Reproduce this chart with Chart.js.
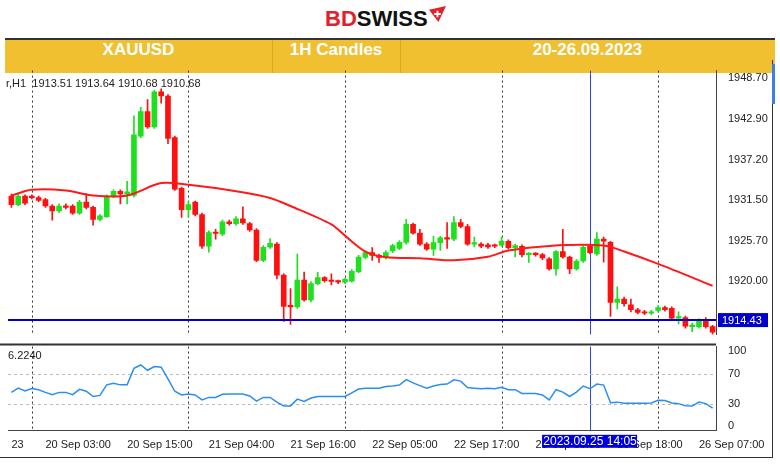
<!DOCTYPE html>
<html><head><meta charset="utf-8">
<script src="https://cdn.jsdelivr.net/npm/chart.js@4.4.0/dist/chart.umd.min.js"></script>
<style>
body{margin:0;width:780px;height:465px;background:#fff;position:relative;overflow:hidden;font-family:"Liberation Sans",Arial,sans-serif}
#logo{position:absolute;left:325px;top:6px;font:bold 22px "Liberation Sans Narrow","Liberation Sans",Arial;letter-spacing:0px}
#logo .bd{color:#E3202A}#logo .sw{color:#111}
#bar{position:absolute;left:5px;top:38px;width:770px;height:35px;background:#F0C030;border-top:2px solid #333;box-sizing:border-box}
.cell{position:absolute;top:0;height:33px;line-height:33px;color:#fff;font:bold 17px "Liberation Sans Narrow","Liberation Sans",Arial;text-align:center}
.sep{position:absolute;top:0;width:1px;height:33px;background:#d9ab25}
#c1{position:absolute;left:0;top:60px}
#c2{position:absolute;left:0;top:336px}
#rb{position:absolute;left:772px;top:60px;width:1px;height:398px;background:#333}
#bb{position:absolute;left:0;top:457px;width:773px;height:1px;background:#333}
#sc{position:absolute;left:772px;top:64px;width:3px;height:40px;background:#3a7ee6}
</style></head><body>
<div id="logo"><span class="bd">BD</span><span class="sw">SWISS</span><svg width="17" height="17" style="vertical-align:top;margin-left:1px" viewBox="0 0 18 18"><polygon points="0,4 18,0 10,17" fill="#E3202A"/><path d="M9 5v7M5.5 8.5h7" stroke="#fff" stroke-width="2"/></svg></div>
<div id="bar">
<div class="cell" style="left:0;width:267px">XAUUSD</div>
<div class="sep" style="left:267px"></div>
<div class="cell" style="left:267px;width:128px">1H Candles</div>
<div class="sep" style="left:395px"></div>
<div class="cell" style="left:395px;width:375px">20-26.09.2023</div>
</div>
<canvas id="c1" width="780" height="285"></canvas>
<canvas id="c2" width="780" height="122"></canvas>
<div id="rb"></div><div id="bb"></div><div id="sc"></div>
<script>
const openP=[1932.0,1930.8,1932.0,1932.0,1931.8,1931.5,1930.6,1929.9,1930.6,1930.6,1929.6,1931.15,1930.4,1928.7,1929.1,1932.0,1932.7,1932.3,1932.1,1940.5,1944.0,1941.8,1946.8,1946.2,1940.3,1933.1,1930.1,1931.15,1929.4,1924.9,1926.85,1926.6,1928.35,1928.1,1928.8,1928.1,1927.2,1922.9,1924.75,1925.2,1920.8,1916.35,1916.3,1920.1,1917.3,1919.6,1920.45,1920.0,1919.9,1919.8,1919.95,1921.3,1923.3,1924.0,1923.6,1923.3,1924.25,1924.6,1925.45,1928.0,1926.75,1925.2,1924.5,1925.4,1926.1,1925.9,1928.25,1927.7,1925.2,1925.2,1925.1,1925.0,1925.05,1925.6,1924.7,1924.9,1923.7,1923.8,1923.7,1923.1,1921.7,1924.15,1923.35,1921.7,1922.8,1924.9,1923.8,1925.9,1925.45,1916.95,1917.4,1916.6,1915.9,1915.5,1915.4,1915.8,1916.2,1916.1,1914.7,1914.8,1913.5,1913.5,1914.4,1913.5];
const closeP=[1930.8,1932.0,1931.0,1931.8,1931.4,1930.6,1929.9,1930.6,1930.4,1929.6,1931.15,1930.4,1928.7,1929.2,1932.0,1932.7,1932.3,1932.6,1940.7,1944.0,1941.8,1946.8,1946.2,1940.2,1933.0,1930.1,1930.8,1929.4,1924.9,1926.85,1926.7,1928.35,1928.1,1928.8,1928.2,1927.2,1922.9,1924.75,1925.3,1920.8,1916.35,1916.3,1920.1,1917.3,1919.6,1920.45,1920.0,1919.9,1919.8,1920.2,1921.35,1923.35,1924.0,1923.6,1923.3,1924.0,1925.0,1925.45,1928.0,1926.75,1925.2,1924.5,1925.4,1926.1,1925.9,1928.25,1927.7,1925.2,1925.3,1924.9,1924.8,1924.9,1925.6,1924.7,1925.0,1923.7,1923.8,1923.7,1923.25,1921.7,1924.15,1923.4,1921.7,1922.8,1924.75,1924.0,1925.9,1925.6,1916.95,1917.4,1916.75,1915.9,1915.5,1915.4,1915.5,1916.2,1915.9,1914.7,1914.8,1913.55,1913.6,1914.4,1913.5,1912.7];
const highP=[1932.3,1932.3,1932.2,1932.2,1932.0,1931.7,1930.8,1930.9,1930.9,1930.8,1931.4,1932.35,1930.6,1929.4,1932.2,1932.9,1932.9,1934.1,1943.4,1944.6,1945.7,1947.0,1947.2,1946.4,1940.5,1933.3,1931.3,1931.3,1929.6,1927.1,1927.3,1928.6,1928.6,1929.1,1930.5,1928.3,1927.4,1925.0,1926.0,1925.4,1921.0,1918.9,1923.8,1921.25,1919.9,1921.2,1920.6,1921.0,1920.1,1920.4,1921.6,1923.6,1924.2,1924.7,1923.8,1924.3,1925.2,1925.7,1928.7,1928.2,1927.3,1925.4,1926.3,1926.3,1928.25,1929.1,1928.7,1928.0,1926.2,1925.4,1925.3,1925.2,1926.2,1925.8,1925.2,1925.1,1924.0,1924.0,1923.9,1923.3,1924.3,1927.3,1923.5,1923.0,1925.0,1925.2,1926.85,1926.2,1925.6,1919.15,1917.7,1917.4,1916.1,1915.8,1915.8,1916.5,1916.4,1916.3,1915.6,1915.0,1914.0,1914.6,1914.8,1913.7];
const lowP=[1930.4,1930.6,1930.8,1931.6,1931.2,1930.4,1928.6,1929.7,1930.2,1929.4,1929.4,1930.2,1927.9,1928.5,1929.0,1931.8,1930.9,1930.9,1931.9,1940.3,1941.6,1941.6,1945.2,1939.45,1932.8,1929.0,1929.0,1929.2,1924.6,1924.05,1925.9,1926.4,1927.9,1927.9,1928.0,1927.0,1922.7,1922.7,1924.6,1920.25,1914.25,1913.8,1916.1,1917.1,1917.0,1919.4,1919.8,1919.4,1919.6,1919.6,1919.8,1921.1,1923.1,1922.9,1922.6,1923.1,1924.0,1924.4,1925.2,1926.6,1925.0,1924.3,1923.6,1924.3,1924.6,1925.7,1927.5,1925.0,1924.8,1924.7,1924.6,1924.7,1924.9,1924.5,1923.4,1923.4,1922.6,1923.5,1923.0,1921.5,1920.8,1923.2,1921.0,1921.5,1922.6,1923.8,1923.6,1922.65,1914.95,1916.0,1916.4,1915.6,1915.3,1915.2,1915.2,1915.6,1915.7,1914.5,1913.9,1913.3,1912.8,1913.3,1913.3,1912.4];
const rsiVals=[45,50.6,47,50,48.5,45,42,45,45,42,49,46.5,39.5,41,55,57,55,55,77,81.5,74.5,79.4,78.6,63,46.5,41.6,42.8,41.6,35,38.3,38.3,42.4,42.8,42.8,42.8,40.3,33.3,38.3,38.3,32,27,27,36,33,37.4,39.5,39.5,39.5,39.5,39.5,44.4,49.4,50.6,50.6,50.6,52.7,53.5,54.7,62,57.6,54,50.6,53.5,55.5,56,61.7,60,51.4,50.6,49.8,50.6,49.8,51.9,48.6,48.6,43.6,43.6,43.6,41.6,35,48.6,45.3,39.5,45.3,53.5,49.8,56,54.7,31.3,32,30.5,30.5,30.5,30.5,30.9,34.6,34.2,30.9,30,27.2,26.7,32,30,23.9];
const maIdx=[0,3,8,12,17,22,26,33,38,41,47,49,52,55,60,65,70,73,79,87,90,95,103];
const maVals=[1932.1,1932.9,1932.8,1932.1,1932.1,1933.85,1933.6,1932.7,1931.75,1930.6,1928.0,1926.4,1924.15,1923.35,1923.2,1922.9,1923.4,1924.3,1924.95,1925.0,1924.15,1922.4,1919.3];
const priceTicks=[1920.00,1925.70,1931.50,1937.20,1942.90,1948.70];
const rsiTicks=[0,30,70,100];
const xLabelIdx=[0,5,17,29,41,53,65,77,89,101];
const xLabelText=['23','20 Sep 03:00','20 Sep 15:00','21 Sep 04:00','21 Sep 16:00','22 Sep 05:00','22 Sep 17:00','25 Sep 06:00','25 Sep 18:00','26 Sep 07:00'];
const gridIdx=[3,26,49,72,95];
const cursorIdx=85, cursorText='2023.09.25 14:05';
const levelPrice=1914.43;
const infoText='r,H1  1913.51 1913.64 1910.68 1910.68';
const rsiInfo='6.2240';

const N=openP.length;
const cats=openP.map((_,i)=>{const k=xLabelIdx.indexOf(i);return k>=0?xLabelText[k]:'';});
const GREEN='#1EE01E',RED='#FF1010';
const cols=openP.map((o,i)=>closeP[i]>=o?GREEN:RED);
const maData=new Array(N).fill(null);maIdx.forEach((k,j)=>maData[k]=maVals[j]);
const FONT={family:'"Liberation Sans",Arial',size:11};
Chart.defaults.animation=false;

function vlines(chart){
  const {ctx,chartArea:a,scales:{x}}=chart;
  ctx.save();ctx.strokeStyle='#333';ctx.lineWidth=1;ctx.setLineDash([2,3]);
  gridIdx.forEach(i=>{const px=Math.round(x.getPixelForValue(i))+0.5;ctx.beginPath();ctx.moveTo(px,a.top);ctx.lineTo(px,a.bottom);ctx.stroke();});
  ctx.setLineDash([]);
  const cx=Math.round(x.getPixelForValue(cursorIdx))+0.5;
  ctx.strokeStyle='#3344ee';ctx.beginPath();ctx.moveTo(cx,a.top);ctx.lineTo(cx,a.bottom);ctx.stroke();
  ctx.restore();
}
const pl1={id:'p1',beforeDatasetsDraw(c){vlines(c);},afterDatasetsDraw(c){
  const {ctx,chartArea:a,scales:{y}}=c;const py=y.getPixelForValue(levelPrice);
  ctx.save();ctx.strokeStyle='#0000cc';ctx.lineWidth=2;ctx.beginPath();ctx.moveTo(a.left,py);ctx.lineTo(a.right,py);ctx.stroke();
  ctx.fillStyle='#0000cc';ctx.fillRect(a.right+2,py-7,50,14);ctx.fillStyle='#fff';ctx.font='11px "Liberation Sans",Arial';ctx.textBaseline='middle';ctx.fillText(levelPrice.toFixed(2),a.right+6,py+0.5);
  ctx.fillStyle='#222';ctx.textBaseline='top';ctx.fillText(infoText,a.left-2,a.top+8);
  ctx.restore();}};
const pl2={id:'p2',beforeDatasetsDraw(c){vlines(c);
  const {ctx,chartArea:a,scales:{y}}=c;ctx.save();ctx.strokeStyle='#bbb';ctx.setLineDash([3,3]);
  [30,70].forEach(v=>{const py=Math.round(y.getPixelForValue(v))+0.5;ctx.beginPath();ctx.moveTo(a.left,py);ctx.lineTo(a.right,py);ctx.stroke();});ctx.restore();},
 afterDraw(c){const {ctx,chartArea:a,scales:{x}}=c;ctx.save();
  ctx.fillStyle='#222';ctx.font='11px "Liberation Sans",Arial';ctx.textBaseline='top';ctx.fillText(rsiInfo,a.left,a.top+4);
  const cx=x.getPixelForValue(cursorIdx);ctx.fillStyle='#0000dd';ctx.fillRect(cx-48,a.bottom+4,95,13);
  ctx.fillStyle='#fff';ctx.textAlign='center';ctx.textBaseline='middle';ctx.font='12px "Liberation Sans",Arial';ctx.fillText(cursorText,cx,a.bottom+11);
  ctx.strokeStyle='#333';ctx.lineWidth=2;ctx.beginPath();ctx.moveTo(0,a.top-2);ctx.lineTo(a.right,a.top-2);ctx.stroke();ctx.restore();}};

const yFit=s=>{s.width=64;};
new Chart(document.getElementById('c1'),{
 data:{labels:cats,datasets:[
  {type:'line',data:maData,borderColor:'#ff1a1a',borderWidth:2,pointRadius:0,spanGaps:true,tension:0.3,order:0},
  {type:'bar',data:openP.map((o,i)=>[o,closeP[i]]),backgroundColor:cols,barThickness:5,minBarLength:1.5,grouped:false,order:1},
  {type:'bar',data:openP.map((o,i)=>[lowP[i],highP[i]]),backgroundColor:cols,barThickness:1,grouped:false,order:2}
 ]},
 options:{responsive:false,layout:{padding:{left:8,top:1,bottom:0,right:0}},
  plugins:{legend:{display:false},tooltip:{enabled:false}},
  scales:{x:{display:false,offset:true},
   y:{position:'right',min:1912.4,max:1949.8,afterFit:yFit,afterBuildTicks:s=>{s.ticks=priceTicks.map(v=>({value:v}));},
    grid:{display:false,drawTicks:true},border:{display:true,color:'#444'},
    ticks:{font:FONT,color:'#222',padding:4,callback:v=>Number(v).toFixed(2)}}}},
 plugins:[pl1]});
new Chart(document.getElementById('c2'),{
 data:{labels:cats,datasets:[{type:'line',data:rsiVals,borderColor:'#2a8ef0',borderWidth:1.5,pointRadius:0,tension:0}]},
 options:{responsive:false,layout:{padding:{left:8,top:0,bottom:6,right:0}},
  plugins:{legend:{display:false},tooltip:{enabled:false}},
  scales:{x:{offset:true,grid:{display:false},border:{display:true,color:'#444'},
    ticks:{autoSkip:false,maxRotation:0,minRotation:0,align:'start',font:FONT,color:'#222',padding:0,callback:(v,i)=>cats[i]}},
   y:{position:'right',min:-6.2,max:106,afterFit:yFit,afterBuildTicks:s=>{s.ticks=rsiTicks.map(v=>({value:v}));},
    grid:{display:false},border:{display:true,color:'#444'},ticks:{font:FONT,color:'#222',padding:4}}}},
 plugins:[pl2]});
</script></body></html>
